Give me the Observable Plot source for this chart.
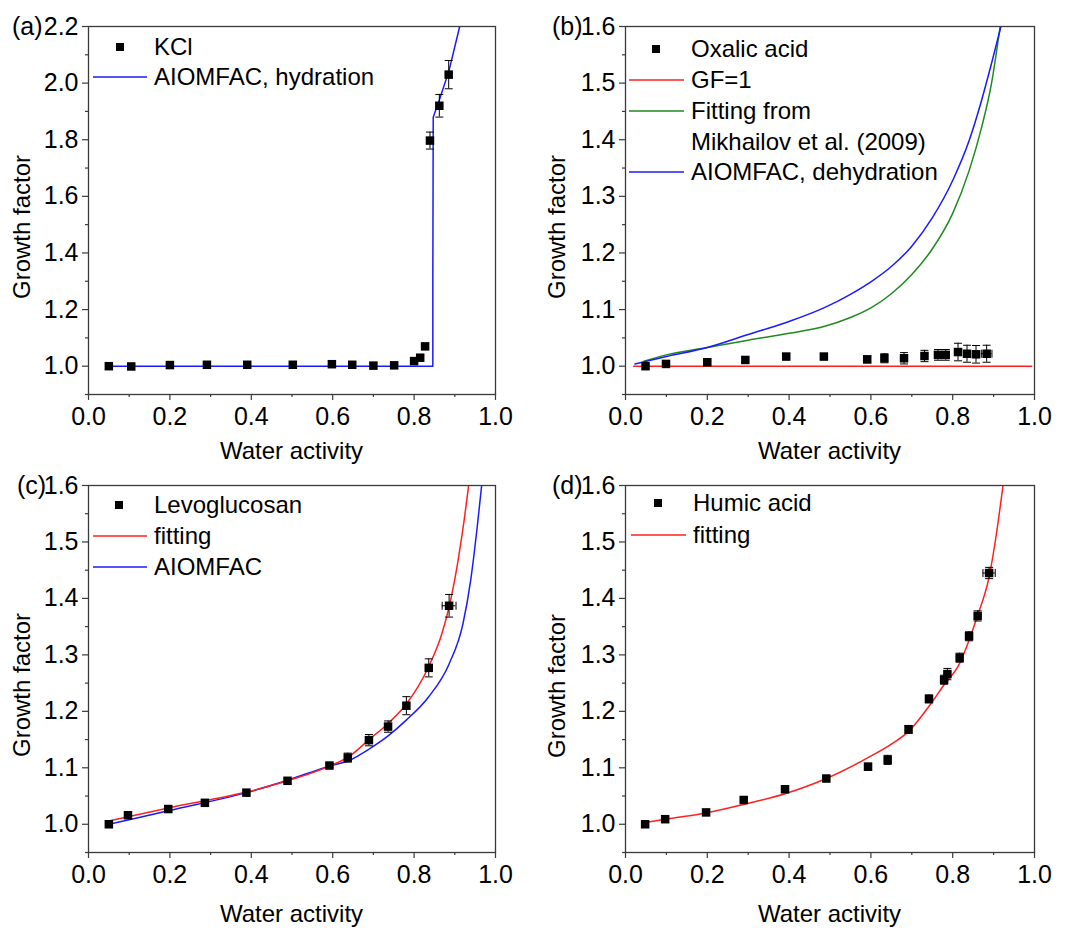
<!DOCTYPE html>
<html>
<head>
<meta charset="utf-8">
<script src="https://cdn.jsdelivr.net/npm/d3@7"></script>
<script src="https://cdn.jsdelivr.net/npm/@observablehq/plot@0.6"></script>
<style>
  body { margin: 0; background: #fff; }
  #wrap { position: relative; width: 1067px; height: 930px; overflow: hidden; background: #fff;
          font-family: "Liberation Sans", Arial, sans-serif; }
  .cell { position: absolute; overflow: hidden; }
  .cell svg { display: block; max-width: none !important; }
</style>
</head>
<body>
<div id="wrap"></div>
<script>
// ---------- axis ticks ----------
const xMajor = [0, 0.2, 0.4, 0.6, 0.8, 1.0];
const xMinor = [0.1, 0.3, 0.5, 0.7, 0.9];
const yMajorA = [1.0, 1.2, 1.4, 1.6, 1.8, 2.0, 2.2];
const yMinorA = [0.9, 1.1, 1.3, 1.5, 1.7, 1.9, 2.1];
const yMajorB = [1.0, 1.1, 1.2, 1.3, 1.4, 1.5, 1.6];
const yMinorB = [0.95, 1.05, 1.15, 1.25, 1.35, 1.45, 1.55];

// ---------- (a) KCl ----------
const kclAw  = [0.05, 0.105, 0.2, 0.291, 0.39, 0.502, 0.598, 0.648, 0.70, 0.751, 0.80, 0.815, 0.827, 0.839, 0.862, 0.885];
const kclGf  = [1.0, 0.999, 1.004, 1.005, 1.005, 1.005, 1.007, 1.005, 1.002, 1.003, 1.018, 1.03, 1.07, 1.797, 1.92, 2.03];
const kclErr = [0, 0, 0, 0, 0, 0, 0, 0, 0, 0, 0, 0, 0, 0.03, 0.04, 0.05];
const kclModelAw = [0.05, 0.846, 0.846, 0.847, 0.862, 0.886, 0.912];
const kclModelGf = [1.0, 1.0, 1.3, 1.879, 1.94, 2.045, 2.2];

// ---------- (b) Oxalic acid ----------
const oxAw  = [0.049, 0.099, 0.2, 0.293, 0.393, 0.485, 0.591, 0.633, 0.681, 0.731, 0.764, 0.783, 0.813, 0.835, 0.857, 0.883];
const oxGf  = [1.0, 1.004, 1.007, 1.011, 1.017, 1.017, 1.012, 1.014, 1.014, 1.018, 1.02, 1.02, 1.025, 1.022, 1.021, 1.022];
const oxErr = [0, 0, 0, 0, 0, 0, 0.006, 0.008, 0.01, 0.01, 0.0095, 0.0095, 0.0155, 0.015, 0.0155, 0.015];
const oxErrX = [0, 0, 0, 0, 0, 0, 0, 0, 0, 0, 0, 0, 0, 0, 0, 0.013];
const gf1Aw = [0.02, 0.993];
const gf1Gf = [1.0, 1.0];
const mikhAw = [0.045, 0.1, 0.2, 0.3, 0.4, 0.485, 0.55, 0.6, 0.65, 0.7, 0.75, 0.8, 0.84, 0.87, 0.895, 0.916];
const mikhGf = [1.009, 1.02, 1.033, 1.046, 1.058, 1.07, 1.086, 1.103, 1.128, 1.162, 1.207, 1.27, 1.345, 1.42, 1.5, 1.6];
const oxAiomAw = [0.023, 0.1, 0.2, 0.3, 0.4, 0.485, 0.55, 0.6, 0.65, 0.7, 0.75, 0.8, 0.84, 0.87, 0.895, 0.918];
const oxAiomGf = [1.004, 1.017, 1.033, 1.056, 1.079, 1.103, 1.127, 1.149, 1.176, 1.212, 1.262, 1.328, 1.398, 1.468, 1.535, 1.6];

// ---------- (c) Levoglucosan ----------
const levAw  = [0.05, 0.097, 0.196, 0.286, 0.388, 0.489, 0.592, 0.637, 0.689, 0.736, 0.781, 0.836, 0.886];
const levGf  = [1.0, 1.016, 1.027, 1.038, 1.056, 1.077, 1.104, 1.118, 1.149, 1.173, 1.21, 1.277, 1.387];
const levErr = [0, 0, 0, 0, 0, 0, 0.004, 0.008, 0.01, 0.01, 0.016, 0.016, 0.02];
const levErrX = [0, 0, 0, 0, 0, 0, 0, 0, 0, 0, 0, 0, 0.017];
const levFitAw = [0.05, 0.196, 0.388, 0.489, 0.592, 0.64, 0.691, 0.737, 0.78, 0.835, 0.868, 0.886, 0.908, 0.924, 0.934];
const levFitGf = [1.006, 1.029, 1.057, 1.077, 1.103, 1.12, 1.151, 1.179, 1.212, 1.278, 1.337, 1.385, 1.467, 1.544, 1.6];
const levAiomAw = [0.05, 0.1, 0.196, 0.388, 0.489, 0.592, 0.64, 0.691, 0.737, 0.78, 0.835, 0.886, 0.92, 0.939, 0.955, 0.966];
const levAiomGf = [1.0, 1.008, 1.024, 1.056, 1.078, 1.103, 1.113, 1.134, 1.157, 1.184, 1.225, 1.284, 1.355, 1.432, 1.526, 1.6];

// ---------- (d) Humic acid ----------
const humAw  = [0.048, 0.097, 0.197, 0.289, 0.39, 0.491, 0.593, 0.641, 0.692, 0.742, 0.779, 0.787, 0.817, 0.84, 0.861, 0.889];
const humGf  = [1.0, 1.009, 1.021, 1.043, 1.062, 1.081, 1.102, 1.114, 1.168, 1.222, 1.256, 1.266, 1.295, 1.333, 1.369, 1.445];
const humErr = [0, 0, 0, 0, 0, 0, 0.006, 0.008, 0.007, 0.007, 0.008, 0.01, 0.008, 0.008, 0.009, 0.01];
const humErrX = [0, 0, 0, 0, 0, 0, 0, 0, 0, 0, 0, 0, 0, 0, 0, 0.015];
const humFitAw = [0.048, 0.097, 0.197, 0.289, 0.39, 0.491, 0.593, 0.65, 0.693, 0.742, 0.779, 0.817, 0.84, 0.86, 0.889, 0.907, 0.923];
const humFitGf = [1.003, 1.009, 1.02, 1.035, 1.054, 1.081, 1.118, 1.142, 1.165, 1.209, 1.247, 1.285, 1.326, 1.368, 1.438, 1.515, 1.6];

// ---------- colours ----------
const BLUE = "#1a1aff", RED = "#ff2020", GREEN = "#1f8a1f", AXIS = "#3a3a3a";
const FONT = "Liberation Sans, Arial, sans-serif";

const zip = (xs, ys) => xs.map((x, i) => ({x, y: ys[i]}));
const pts = (xs, ys, ey, ex) => xs.map((x, i) => ({x, y: ys[i], ey: ey ? ey[i] : 0, ex: ex ? ex[i] : 0}));

const capH = {draw(ctx, size) { const h = Math.sqrt(size / Math.PI); ctx.moveTo(-h, 0); ctx.lineTo(h, 0); }};
const capV = {draw(ctx, size) { const h = Math.sqrt(size / Math.PI); ctx.moveTo(0, -h); ctx.lineTo(0, h); }};

function pointMarks(data) {
  const ey = data.filter(d => d.ey > 0);
  const ex = data.filter(d => d.ex > 0);
  return [
    Plot.ruleX(ey, {x: "x", y1: d => d.y - d.ey, y2: d => d.y + d.ey, stroke: "black", strokeWidth: 1}),
    Plot.dot(ey.flatMap(d => [{x: d.x, y: d.y - d.ey}, {x: d.x, y: d.y + d.ey}]),
      {x: "x", y: "y", symbol: capH, r: 4, stroke: "black", fill: "none", strokeWidth: 1}),
    Plot.ruleY(ex, {y: "y", x1: d => d.x - d.ex, x2: d => d.x + d.ex, stroke: "black", strokeWidth: 1}),
    Plot.dot(ex.flatMap(d => [{x: d.x - d.ex, y: d.y}, {x: d.x + d.ex, y: d.y}]),
      {x: "x", y: "y", symbol: capV, r: 4, stroke: "black", fill: "none", strokeWidth: 1}),
    Plot.dot(data, {x: "x", y: "y", symbol: "square", r: 4.8, fill: "black", stroke: "none"})
  ];
}

function curve(data, color, c = "monotone-x") {
  return Plot.line(data, {x: "x", y: "y", stroke: color, strokeWidth: 1.5, curve: c, clip: true});
}

function makePanel(cfg) {
  const div = document.createElement("div");
  div.className = "cell";
  Object.assign(div.style, {left: cfg.left + "px", top: cfg.top + "px", width: cfg.width + "px", height: cfg.height + "px"});
  const fmt = d3.format(".1f");
  const svg = Plot.plot({
    width: cfg.width, height: cfg.height,
    marginTop: cfg.mt, marginBottom: cfg.mb, marginLeft: cfg.ml, marginRight: cfg.mr,
    style: {fontFamily: FONT, fontSize: "24px", color: "black", background: "white", overflow: "visible"},
    x: {domain: [0, 1]},
    y: {domain: cfg.yDomain},
    marks: [
      Plot.axisX({ticks: xMajor, tickSize: 6, tickPadding: 7, tickFormat: fmt, label: null, stroke: AXIS, fill: "black", strokeWidth: 1.2, fontSize: 25}),
      Plot.axisX({ticks: xMinor, tickSize: 3, tickFormat: () => "", label: null, stroke: AXIS, strokeWidth: 1.2}),
      Plot.axisY({ticks: cfg.yMajor, tickSize: 6, tickPadding: 4, tickFormat: fmt, label: null, stroke: AXIS, fill: "black", strokeWidth: 1.2, fontSize: 25}),
      Plot.axisY({ticks: cfg.yMinor, tickSize: 3, tickFormat: () => "", label: null, stroke: AXIS, strokeWidth: 1.2}),
      ...cfg.marks,
      Plot.frame({stroke: AXIS, strokeWidth: 1.3})
    ]
  });
  const s = d3.select(svg);
  const g = s.append("g").attr("font-family", FONT).attr("font-size", 24).attr("fill", "black").attr("text-anchor", "start");
  // panel tag
  g.append("text").attr("x", cfg.tag[1]).attr("y", cfg.tag[2]).attr("dy", "0.35em").attr("font-size", 25).text(cfg.tag[0]);
  // axis titles
  g.append("text").attr("transform", `translate(${cfg.yl[0]},${cfg.yl[1]}) rotate(-90)`)
    .attr("text-anchor", "middle").attr("dy", "0.35em").text("Growth factor");
  g.append("text").attr("x", cfg.ml + (cfg.width - cfg.ml - cfg.mr) / 2).attr("y", cfg.xlY)
    .attr("text-anchor", "middle").text("Water activity");
  // legend
  const L = cfg.legend;
  for (const it of L.items) {
    if (it.kind === "dot") {
      g.append("rect").attr("x", L.sym - 4).attr("y", it.y - 4).attr("width", 8).attr("height", 8).attr("fill", "black");
    } else if (it.kind === "line") {
      g.append("line").attr("x1", L.l1).attr("x2", L.l2).attr("y1", it.y).attr("y2", it.y)
        .attr("stroke", it.color).attr("stroke-width", 1.5);
    }
    g.append("text").attr("x", L.tx).attr("y", it.y).attr("dy", "0.35em").text(it.text);
  }
  div.appendChild(svg);
  document.getElementById("wrap").appendChild(div);
}

// (a)
makePanel({
  left: 0, top: 0, width: 533, height: 466, mt: 26, mb: 72, ml: 88, mr: 38,
  yDomain: [0.9, 2.2], yMajor: yMajorA, yMinor: yMinorA,
  marks: [curve(zip(kclModelAw, kclModelGf), BLUE, "linear"), ...pointMarks(pts(kclAw, kclGf, kclErr))],
  tag: ["(a)", 12, 26], yl: [22, 227], xlY: 459,
  legend: {sym: 120, tx: 154, l1: 93, l2: 147, items: [
    {kind: "dot", y: 47, text: "KCl"},
    {kind: "line", y: 77, color: BLUE, text: "AIOMFAC, hydration"}
  ]}
});

// (b)
makePanel({
  left: 533, top: 0, width: 534, height: 466, mt: 26, mb: 72, ml: 92, mr: 33,
  yDomain: [0.95, 1.6], yMajor: yMajorB, yMinor: yMinorB,
  marks: [
    curve(zip(gf1Aw, gf1Gf), RED, "linear"),
    curve(zip(mikhAw, mikhGf), GREEN),
    curve(zip(oxAiomAw, oxAiomGf), BLUE),
    ...pointMarks(pts(oxAw, oxGf, oxErr, oxErrX))
  ],
  tag: ["(b)", 19, 26], yl: [24, 227], xlY: 459,
  legend: {sym: 123, tx: 158, l1: 96, l2: 151, items: [
    {kind: "dot", y: 49, text: "Oxalic acid"},
    {kind: "line", y: 80, color: RED, text: "GF=1"},
    {kind: "line", y: 111, color: GREEN, text: "Fitting from"},
    {kind: "none", y: 142, text: "Mikhailov et al. (2009)"},
    {kind: "line", y: 172, color: BLUE, text: "AIOMFAC, dehydration"}
  ]}
});

// (c)
makePanel({
  left: 0, top: 466, width: 533, height: 464, mt: 19, mb: 78, ml: 88, mr: 38,
  yDomain: [0.95, 1.6], yMajor: yMajorB, yMinor: yMinorB,
  marks: [
    curve(zip(levAiomAw, levAiomGf), BLUE),
    curve(zip(levFitAw, levFitGf), RED),
    ...pointMarks(pts(levAw, levGf, levErr, levErrX))
  ],
  tag: ["(c)", 17, 19], yl: [22, 219], xlY: 456,
  legend: {sym: 119, tx: 154, l1: 93, l2: 147, items: [
    {kind: "dot", y: 39, text: "Levoglucosan"},
    {kind: "line", y: 70, color: RED, text: "fitting"},
    {kind: "line", y: 101, color: BLUE, text: "AIOMFAC"}
  ]}
});

// (d)
makePanel({
  left: 533, top: 466, width: 534, height: 464, mt: 19, mb: 78, ml: 92, mr: 33,
  yDomain: [0.95, 1.6], yMajor: yMajorB, yMinor: yMinorB,
  marks: [
    curve(zip(humFitAw, humFitGf), RED),
    ...pointMarks(pts(humAw, humGf, humErr, humErrX))
  ],
  tag: ["(d)", 19, 19], yl: [24, 220], xlY: 456,
  legend: {sym: 125, tx: 160, l1: 98, l2: 153, items: [
    {kind: "dot", y: 37, text: "Humic acid"},
    {kind: "line", y: 69, color: RED, text: "fitting"}
  ]}
});
</script>
</body>
</html>
